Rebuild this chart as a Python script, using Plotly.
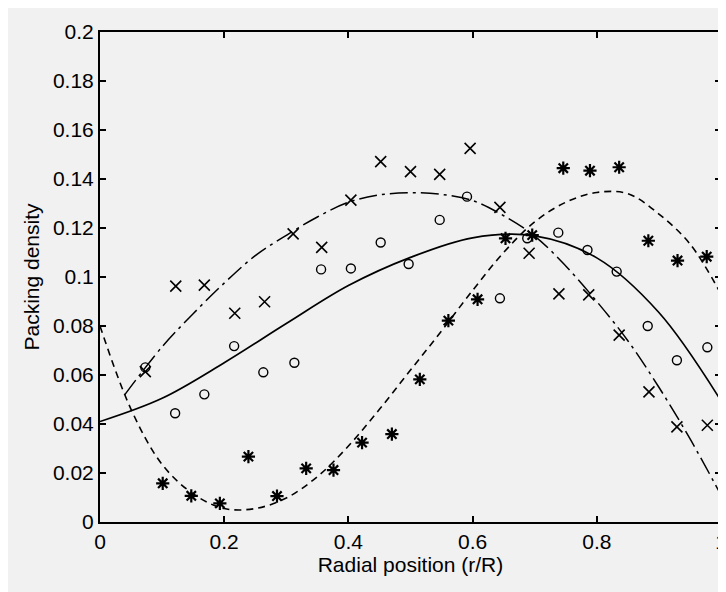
import plotly.graph_objects as go

# ---- data ----
x_cross = [0.073, 0.122, 0.168, 0.217, 0.265, 0.311, 0.357, 0.404, 0.452, 0.500,
           0.547, 0.596, 0.644, 0.691, 0.739, 0.787, 0.836, 0.884, 0.929, 0.978]
y_cross = [0.0614, 0.0963, 0.0967, 0.0852, 0.0899, 0.1176, 0.1121, 0.1314, 0.1471, 0.1430,
           0.1419, 0.1525, 0.1284, 0.1097, 0.0931, 0.0927, 0.0763, 0.0531, 0.0388, 0.0395]

x_circle = [0.073, 0.121, 0.168, 0.216, 0.263, 0.313, 0.356, 0.404, 0.452, 0.497,
            0.547, 0.591, 0.644, 0.688, 0.738, 0.785, 0.832, 0.882, 0.929, 0.978]
y_circle = [0.0631, 0.0444, 0.0521, 0.0718, 0.0611, 0.0650, 0.1031, 0.1035, 0.1141, 0.1053,
            0.1233, 0.1328, 0.0913, 0.1158, 0.1181, 0.1110, 0.1022, 0.0800, 0.0660, 0.0713]

x_star = [0.101, 0.147, 0.193, 0.239, 0.285, 0.332, 0.376, 0.422, 0.470, 0.515,
          0.561, 0.608, 0.653, 0.696, 0.746, 0.789, 0.836, 0.883, 0.930, 0.977]
y_star = [0.0158, 0.0107, 0.0076, 0.0267, 0.0106, 0.0219, 0.0212, 0.0324, 0.0359, 0.0582,
          0.0822, 0.0909, 0.1158, 0.1171, 0.1444, 0.1434, 0.1448, 0.1148, 0.1067, 0.1083]

# fitted curves
x_fit_cross = [0.04, 0.10, 0.15, 0.20, 0.25, 0.30, 0.35, 0.40, 0.45, 0.50,
               0.55, 0.60, 0.65, 0.70, 0.75, 0.80, 0.85, 0.90, 0.95, 1.00]
y_fit_cross = [0.0520, 0.0715, 0.0850, 0.0975, 0.1087, 0.1170, 0.1245, 0.1305, 0.1335, 0.1344,
               0.1337, 0.1312, 0.1250, 0.1167, 0.1045, 0.0900, 0.0740, 0.0550, 0.0340, 0.0110]

x_fit_circle = [0.0, 0.1, 0.2, 0.3, 0.4, 0.5, 0.6, 0.7, 0.8, 0.9, 1.0]
y_fit_circle = [0.0410, 0.0505, 0.0650, 0.0810, 0.0965, 0.1080, 0.1160, 0.1168, 0.1078, 0.0855, 0.0495]

x_fit_star = [0.00, 0.05, 0.10, 0.15, 0.20, 0.25, 0.30, 0.35, 0.40, 0.45,
              0.50, 0.55, 0.60, 0.65, 0.70, 0.75, 0.80, 0.85, 0.90, 0.95, 1.00]
y_fit_star = [0.0800, 0.0460, 0.0235, 0.0115, 0.0055, 0.0055, 0.0098, 0.0185, 0.0310, 0.0460,
              0.0620, 0.0780, 0.0945, 0.1100, 0.1225, 0.1305, 0.1345, 0.1340, 0.1257, 0.1135, 0.0930]

x_ticks = [0, 0.2, 0.4, 0.6, 0.8, 1]
x_tick_text = ["0", "0.2", "0.4", "0.6", "0.8", "1"]
y_ticks = [0, 0.02, 0.04, 0.06, 0.08, 0.1, 0.12, 0.14, 0.16, 0.18, 0.2]
y_tick_text = ["0", "0.02", "0.04", "0.06", "0.08", "0.1", "0.12", "0.14", "0.16", "0.18", "0.2"]

x_title = "Radial position (r/R)"
y_title = "Packing density"

FONT = "Liberation Sans, Arial, sans-serif"
BG = "#f1f1f1"

fig = go.Figure()

fig.add_trace(go.Scatter(x=x_fit_cross, y=y_fit_cross, mode="lines",
                         line=dict(color="black", width=1.5, dash="18px,5px,3px,5px",
                                   shape="spline", smoothing=1.0),
                         showlegend=False, hoverinfo="skip"))
fig.add_trace(go.Scatter(x=x_fit_circle, y=y_fit_circle, mode="lines",
                         line=dict(color="black", width=1.7, shape="spline", smoothing=1.0),
                         showlegend=False, hoverinfo="skip"))
fig.add_trace(go.Scatter(x=x_fit_star, y=y_fit_star, mode="lines",
                         line=dict(color="black", width=1.6, dash="7px,5px",
                                   shape="spline", smoothing=1.0),
                         showlegend=False, hoverinfo="skip"))

fig.add_trace(go.Scatter(x=x_cross, y=y_cross, mode="markers",
                         marker=dict(symbol="x-thin", size=11,
                                     line=dict(color="black", width=1.6)),
                         showlegend=False))
fig.add_trace(go.Scatter(x=x_circle, y=y_circle, mode="markers",
                         marker=dict(symbol="circle-open", size=9, color="black",
                                     line=dict(color="black", width=1.4)),
                         showlegend=False))
fig.add_trace(go.Scatter(x=x_star, y=y_star, mode="markers",
                         marker=dict(symbol="asterisk", size=11,
                                     line=dict(color="black", width=2.2)),
                         showlegend=False))

axis_common = dict(showgrid=False, zeroline=False, showline=True, linecolor="black",
                   linewidth=2, ticks="inside", ticklen=6, tickwidth=1.5, tickcolor="black",
                   mirror="ticks", automargin=False, ticklabeloverflow="allow",
                   tickfont=dict(family=FONT, size=21, color="black"))

fig.update_xaxes(range=[0, 1], tickvals=x_ticks, ticktext=x_tick_text,
                 title=dict(text=x_title, font=dict(family=FONT, size=21, color="black"),
                            standoff=4),
                 **axis_common)
fig.update_yaxes(range=[0, 0.2], tickvals=y_ticks, ticktext=y_tick_text,
                 title=dict(text=y_title, font=dict(family=FONT, size=21, color="black"),
                            standoff=8),
                 **axis_common)

# the page body adds an 8px offset, so the figure is sized to fit the 726x592 window
fig.update_layout(width=718, height=584,
                  margin=dict(l=92, r=5, t=24, b=70),
                  paper_bgcolor=BG, plot_bgcolor=BG,
                  font=dict(family=FONT, size=21, color="black"))

fig.write_html("out.html")
